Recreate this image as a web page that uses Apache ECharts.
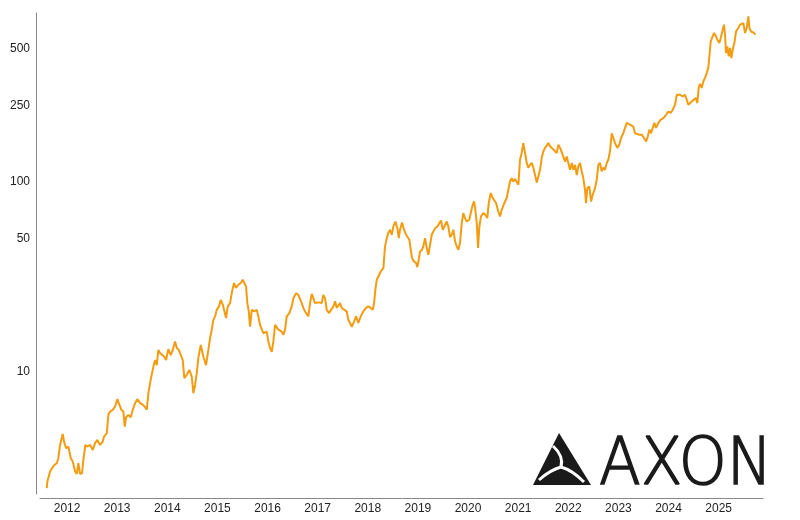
<!DOCTYPE html>
<html>
<head>
<meta charset="utf-8">
<script src="https://cdn.jsdelivr.net/npm/echarts@6/dist/echarts.min.js"></script>
<style>
  html, body { margin: 0; padding: 0; background: #fff; }
  #chart { width: 800px; height: 520px; }
</style>
</head>
<body>
<div id="chart"></div>
<script>
// share price (x as decimal year)
var years = [
  2011.595, 2011.607, 2011.661, 2011.727, 2011.795, 2011.826, 2011.860, 2011.914, 2011.940, 2011.980,
  2012.026, 2012.074, 2012.114, 2012.160, 2012.194, 2012.225, 2012.259, 2012.299, 2012.325, 2012.365,
  2012.405, 2012.459, 2012.513, 2012.559, 2012.604, 2012.658, 2012.712, 2012.738, 2012.792, 2012.824,
  2012.858, 2012.912, 2012.958, 2013.004, 2013.043, 2013.083, 2013.123, 2013.151, 2013.177, 2013.223,
  2013.271, 2013.311, 2013.357, 2013.402, 2013.456, 2013.510, 2013.556, 2013.590, 2013.626, 2013.676,
  2013.722, 2013.756, 2013.790, 2013.821, 2013.855, 2013.889, 2013.935, 2013.975, 2014.021, 2014.069,
  2014.109, 2014.155, 2014.189, 2014.229, 2014.268, 2014.308, 2014.340, 2014.388, 2014.440, 2014.488,
  2014.520, 2014.554, 2014.588, 2014.619, 2014.667, 2014.693, 2014.719, 2014.773, 2014.819, 2014.853,
  2014.887, 2014.919, 2014.953, 2014.987, 2015.032, 2015.066, 2015.106, 2015.138, 2015.172, 2015.206,
  2015.252, 2015.292, 2015.332, 2015.372, 2015.417, 2015.465, 2015.505, 2015.539, 2015.571, 2015.597,
  2015.625, 2015.651, 2015.685, 2015.731, 2015.785, 2015.817, 2015.850, 2015.884, 2015.916, 2015.950,
  2015.984, 2016.016, 2016.050, 2016.084, 2016.116, 2016.150, 2016.183, 2016.215, 2016.249, 2016.283,
  2016.315, 2016.349, 2016.383, 2016.435, 2016.483, 2016.515, 2016.569, 2016.614, 2016.648, 2016.682,
  2016.714, 2016.748, 2016.782, 2016.814, 2016.848, 2016.882, 2016.914, 2016.948, 2016.982, 2017.033,
  2017.081, 2017.113, 2017.147, 2017.181, 2017.227, 2017.267, 2017.313, 2017.347, 2017.381, 2017.412,
  2017.446, 2017.480, 2017.532, 2017.580, 2017.612, 2017.646, 2017.680, 2017.726, 2017.766, 2017.811,
  2017.859, 2017.911, 2017.965, 2018.011, 2018.059, 2018.099, 2018.125, 2018.151, 2018.179, 2018.211,
  2018.259, 2018.311, 2018.344, 2018.378, 2018.410, 2018.444, 2018.478, 2018.510, 2018.550, 2018.590,
  2018.618, 2018.643, 2018.683, 2018.723, 2018.763, 2018.797, 2018.829, 2018.857, 2018.883, 2018.923,
  2018.963, 2018.989, 2019.017, 2019.042, 2019.082, 2019.108, 2019.142, 2019.176, 2019.208, 2019.242,
  2019.276, 2019.308, 2019.348, 2019.388, 2019.428, 2019.461, 2019.495, 2019.527, 2019.575, 2019.607,
  2019.641, 2019.675, 2019.707, 2019.741, 2019.775, 2019.807, 2019.840, 2019.874, 2019.906, 2019.940,
  2019.974, 2020.026, 2020.060, 2020.094, 2020.120, 2020.146, 2020.174, 2020.200, 2020.226, 2020.259,
  2020.305, 2020.345, 2020.385, 2020.413, 2020.453, 2020.493, 2020.525, 2020.559, 2020.605, 2020.638,
  2020.672, 2020.704, 2020.738, 2020.772, 2020.804, 2020.838, 2020.872, 2020.904, 2020.938, 2020.972,
  2021.004, 2021.037, 2021.071, 2021.103, 2021.137, 2021.171, 2021.203, 2021.237, 2021.271, 2021.303,
  2021.337, 2021.371, 2021.403, 2021.436, 2021.470, 2021.503, 2021.537, 2021.571, 2021.603, 2021.636,
  2021.670, 2021.702, 2021.736, 2021.770, 2021.802, 2021.836, 2021.870, 2021.902, 2021.936, 2021.970,
  2022.001, 2022.035, 2022.069, 2022.101, 2022.135, 2022.169, 2022.201, 2022.234, 2022.268, 2022.300,
  2022.334, 2022.354, 2022.380, 2022.420, 2022.454, 2022.488, 2022.534, 2022.568, 2022.600, 2022.633,
  2022.667, 2022.699, 2022.733, 2022.767, 2022.799, 2022.833, 2022.867, 2022.899, 2022.933, 2022.979,
  2023.019, 2023.052, 2023.098, 2023.132, 2023.166, 2023.198, 2023.232, 2023.266, 2023.298, 2023.332,
  2023.366, 2023.418, 2023.466, 2023.512, 2023.552, 2023.586, 2023.617, 2023.651, 2023.685, 2023.717,
  2023.751, 2023.797, 2023.845, 2023.897, 2023.951, 2023.996, 2024.044, 2024.084, 2024.130, 2024.164,
  2024.196, 2024.230, 2024.283, 2024.329, 2024.363, 2024.395, 2024.429, 2024.462, 2024.508, 2024.548,
  2024.574, 2024.602, 2024.628, 2024.662, 2024.694, 2024.728, 2024.762, 2024.794, 2024.828, 2024.842,
  2024.868, 2024.908, 2024.948, 2024.974, 2025.014, 2025.042, 2025.081, 2025.107, 2025.127, 2025.147,
  2025.173, 2025.201, 2025.227, 2025.253, 2025.281, 2025.313, 2025.347, 2025.393, 2025.427, 2025.461,
  2025.493, 2025.527, 2025.561, 2025.593, 2025.613, 2025.647, 2025.681, 2025.707, 2025.733
];
var prices = [
  2.44, 2.64, 2.98, 3.19, 3.30, 3.50, 4.11, 4.70, 4.28, 3.95,
  4.03, 3.50, 3.36, 2.98, 2.90, 3.30, 2.90, 2.92, 3.43, 4.11,
  4.03, 4.11, 3.87, 4.20, 4.37, 4.11, 4.28, 4.55, 4.74, 5.92,
  6.16, 6.29, 6.55, 7.16, 6.69, 6.29, 6.16, 5.13, 5.75, 5.92,
  5.75, 6.29, 6.82, 7.16, 6.82, 6.69, 6.50, 6.29, 7.82, 9.26,
  10.6, 11.5, 10.8, 13.0, 12.5, 12.7, 12.0, 11.5, 13.1, 12.2,
  13.0, 14.4, 13.3, 13.0, 13.1, 11.5, 9.23, 9.61, 10.2, 9.41,
  7.69, 8.50, 9.80, 11.8, 13.8, 14.1, 12.0, 10.8, 13.0, 15.0,
  16.6, 18.7, 19.5, 21.1, 22.0, 23.8, 22.5, 22.9, 19.1, 22.0,
  22.9, 26.4, 29.2, 27.5, 28.6, 29.2, 30.4, 31.0, 28.0, 22.9,
  20.7, 17.2, 21.1, 20.7, 21.1, 19.5, 17.6, 18.0, 15.9, 15.6,
  16.2, 14.4, 13.3, 12.7, 14.4, 17.6, 18.0, 16.6, 16.9, 16.2,
  15.6, 16.6, 19.5, 20.3, 22.0, 24.3, 25.8, 25.3, 24.8, 22.9,
  21.6, 20.7, 20.3, 19.5, 22.9, 25.6, 25.3, 22.9, 22.9, 23.1,
  22.9, 25.3, 24.3, 21.1, 20.3, 21.1, 22.0, 23.4, 21.6, 22.0,
  22.9, 21.6, 21.1, 20.7, 18.7, 18.0, 17.2, 18.3, 19.5, 18.0,
  19.5, 20.7, 21.6, 22.0, 21.6, 21.1, 22.9, 26.9, 30.4, 30.7,
  33.6, 35.0, 45.5, 50.3, 53.5, 55.7, 52.4, 57.9, 61.5, 56.8,
  50.3, 55.7, 60.8, 55.7, 52.4, 53.5, 49.3, 43.7, 39.5, 37.9,
  37.2, 35.4, 38.7, 42.8, 43.7, 45.5, 50.3, 44.6, 41.1, 46.4,
  52.4, 54.5, 56.8, 57.9, 60.3, 62.3, 55.7, 54.5, 61.5, 57.9,
  50.9, 52.4, 55.7, 48.3, 45.5, 43.7, 47.4, 60.3, 68.1, 64.1,
  61.5, 62.8, 69.4, 75.4, 78.4, 70.9, 60.3, 44.6, 57.9, 65.4,
  68.1, 66.7, 64.1, 76.9, 86.8, 81.7, 80.0, 76.9, 69.2, 65.4,
  70.9, 69.4, 78.4, 81.7, 90.3, 99.8, 104, 99.8, 103, 101,
  96.0, 130, 141, 159, 141, 125, 118, 122, 125, 118,
  108, 98.6, 106, 115, 133, 144, 150, 153, 159, 153,
  154, 147, 150, 141, 156, 150, 153, 135, 127, 135,
  125, 115, 125, 115, 122, 108, 120, 125, 113, 104,
  90.3, 76.9, 92.2, 94.0, 78.4, 85.0, 92.2, 102, 122, 125,
  113, 118, 115, 125, 130, 144, 179, 176, 159, 150,
  156, 169, 179, 179, 203, 207, 199, 203, 194, 179,
  183, 176, 176, 169, 162, 172, 187, 179, 191, 203,
  191, 203, 211, 215, 224, 233, 229, 238, 253, 285,
  280, 285, 280, 285, 269, 253, 248, 263, 269, 274,
  258, 310, 326, 310, 335, 350, 371, 395, 402, 544,
  568, 603, 579, 556, 534, 568, 627, 667, 590, 473,
  513, 454, 503, 445, 493, 534, 614, 641, 667, 653,
  680, 603, 641, 737, 641, 614, 627, 603, 590
];
var yearTicks = [2012, 2013, 2014, 2015, 2016, 2017, 2018, 2019, 2020, 2021, 2022, 2023, 2024, 2025];
var priceTicks = [10, 50, 100, 250, 500];

var yearMin = 2011.46, yearMax = 2025.885;
var priceMin = 2.27, priceMax = 768;

var points = years.map(function (y, i) { return [y, prices[i]]; });

var labelFont = { color: '#222', fontSize: 12, fontFamily: 'Liberation Sans, Arial, sans-serif' };

var myChart = echarts.init(document.getElementById('chart'));
myChart.setOption({
    animation: false,
    grid: { left: 40, right: 37, top: 13, bottom: 26 },
    xAxis: {
        type: 'value',
        min: yearMin,
        max: yearMax,
        offset: 4,
        splitLine: { show: false },
        axisTick: { show: false },
        axisLine: { lineStyle: { color: '#888', width: 1 } },
        axisLabel: Object.assign({
            customValues: yearTicks,
            margin: 5,
            formatter: function (v) { return String(Math.round(v)); }
        }, labelFont)
    },
    yAxis: [{
        type: 'log',
        min: priceMin,
        max: priceMax,
        offset: 4,
        axisLine: { show: true, lineStyle: { color: '#888', width: 1 } },
        axisTick: { show: false },
        axisLabel: { show: false },
        splitLine: { show: false }
    }, {
        // label-only axis in log10 space, so the ticks sit at 10/50/100/250/500
        type: 'value',
        position: 'left',
        min: Math.log10(priceMin),
        max: Math.log10(priceMax),
        offset: 4,
        axisLine: { show: false },
        axisTick: { show: false },
        splitLine: { show: false },
        axisLabel: Object.assign({
            customValues: priceTicks.map(Math.log10),
            margin: 6,
            formatter: function (v) { return String(Math.round(Math.pow(10, v))); }
        }, labelFont)
    }],
    series: [{
        type: 'line',
        yAxisIndex: 0,
        data: points,
        showSymbol: false,
        lineStyle: { color: '#f39c12', width: 2 },
        itemStyle: { color: '#f39c12' }
    }],
    graphic: [
        { type: 'polygon', shape: { points: [[559, 433], [533, 485], [591, 485]] }, style: { fill: '#1a1a1a' } },
        { type: 'bezierCurve', shape: { x1: 561, y1: 467, cpx1: 564, cpy1: 456, x2: 553, y2: 446 }, style: { stroke: '#fff', lineWidth: 3, fill: null } },
        { type: 'bezierCurve', shape: { x1: 561, y1: 467, cpx1: 572, cpy1: 470, x2: 584, y2: 482 }, style: { stroke: '#fff', lineWidth: 3, fill: null } },
        { type: 'bezierCurve', shape: { x1: 561, y1: 467, cpx1: 550, cpy1: 470, x2: 539, y2: 480 }, style: { stroke: '#fff', lineWidth: 3, fill: null } },
        {
            type: 'text', x: 599, y: 467, scaleX: 0.925,
            style: {
                text: 'AXON', fontSize: 66, fontFamily: 'DejaVu Sans', fontWeight: 200,
                fill: '#1a1a1a', stroke: '#1a1a1a', lineWidth: 1.5, verticalAlign: 'middle'
            }
        }
    ]
});
</script>
</body>
</html>
